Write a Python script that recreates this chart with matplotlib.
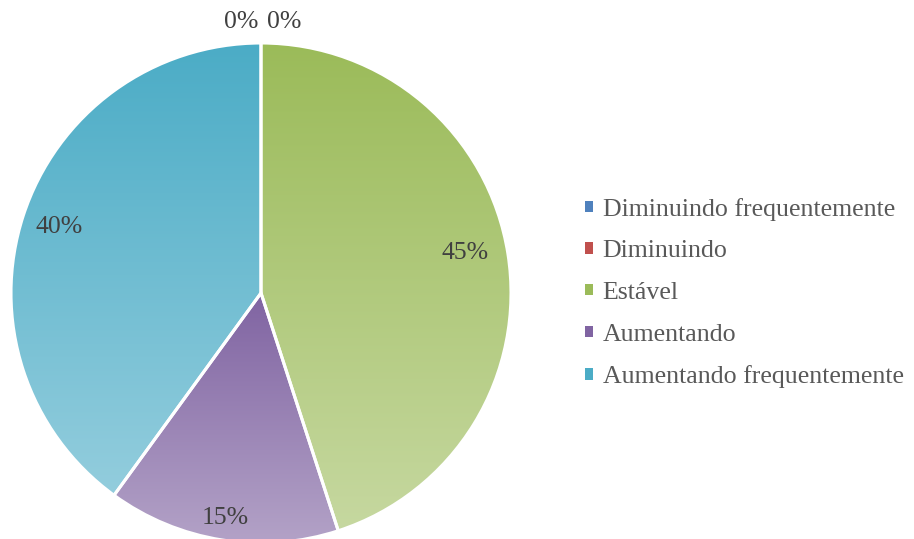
import numpy as np
import matplotlib
matplotlib.use("Agg")
import matplotlib.pyplot as plt
from matplotlib.patches import Patch
from matplotlib.colors import LinearSegmentedColormap

plt.rcParams["font.family"] = ["Liberation Serif", "DejaVu Serif"]

categories = ["Diminuindo frequentemente", "Diminuindo", "Estável", "Aumentando", "Aumentando frequentemente"]
values = [0, 0, 45, 15, 40]
labels = ["0%", "0%", "45%", "15%", "40%"]

top_colors = ["#4F81BD", "#C0504D", "#9BBB59", "#8064A2", "#4BACC6"]
bottom_colors = ["#95B3D7", "#D99694", "#C6D8A0", "#B3A2C7", "#93CDDD"]

W, H = 914, 539
fig = plt.figure(figsize=(W / 100, H / 100), dpi=100)
ax = fig.add_axes([0, 0, 1, 1])

cx, cy, R = 261, H - 293, 250
wedges, _ = ax.pie(values, startangle=90, counterclock=False, center=(cx, cy),
                   radius=R, normalize=True, frame=True,
                   wedgeprops=dict(edgecolor="white", linewidth=2.2))
ax.set_xlim(0, W)
ax.set_ylim(0, H)
ax.axis("off")

grad = np.linspace(0, 1, 256).reshape(-1, 1)
for w, v, tc, bc in zip(wedges, values, top_colors, bottom_colors):
    if v == 0:
        w.set_visible(False)
        continue
    ext = w.get_path().get_extents()
    cmap = LinearSegmentedColormap.from_list("g", [bc, tc])
    im = ax.imshow(grad, cmap=cmap, extent=[ext.x0, ext.x1, ext.y0, ext.y1],
                   origin="lower", aspect="auto", zorder=1, interpolation="bilinear")
    im.set_clip_path(w)
    w.set_facecolor("none")
    w.set_zorder(2)
ax.set_xlim(0, W)
ax.set_ylim(0, H)
ax.set_aspect("auto")

# data labels
dist = [None, None, 0.83, 0.91, 0.85]
ang_shift = [0, 0, 2, 0, 0]
total = sum(values)
cum = 0
for v, lab, d, s in zip(values, labels, dist, ang_shift):
    mid = 90 - (cum + v / 2) / total * 360 + s
    cum += v
    if d is None:
        continue
    a = np.deg2rad(mid)
    ax.text(cx + d * R * np.cos(a), cy + d * R * np.sin(a), lab, ha="center", va="center",
            fontsize=18.5, color="#404040", zorder=3)
# zero labels above the top
ax.text(cx - 20, H - 22, labels[0], ha="center", va="center", fontsize=18.5, color="#404040")
ax.text(cx + 23, H - 22, labels[1], ha="center", va="center", fontsize=18.5, color="#404040")

handles = [Patch(facecolor=tc, edgecolor="none") for tc in top_colors]
leg = ax.legend(handles, categories, loc="center left", bbox_to_anchor=(585 / W, 1 - 293 / H),
                bbox_transform=fig.transFigure, frameon=False, prop=dict(size=18.6),
                handlelength=0.3, handleheight=0.3, handletextpad=0.38, labelspacing=0.76,
                borderpad=0, borderaxespad=0)
for t in leg.get_texts():
    t.set_color("#595959")

fig.savefig("out.png", dpi=100)
